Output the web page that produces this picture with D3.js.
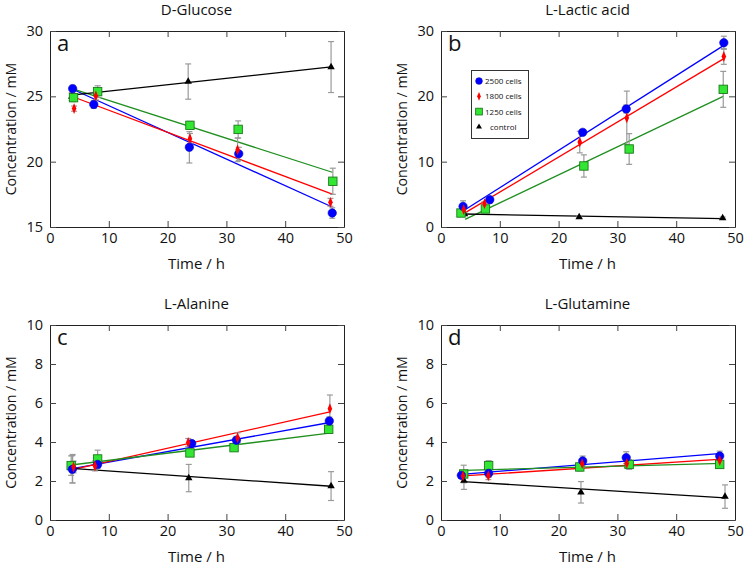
<!DOCTYPE html>
<html>
<head>
<meta charset="utf-8">
<script src="https://cdn.jsdelivr.net/npm/d3@7"></script>
<style>
  html, body { margin: 0; padding: 0; background: #fff; }
  svg { display: block; font-family: "Open Sans", "Noto Sans", sans-serif; }
</style>
</head>
<body>
<svg id="chart" width="745" height="566"></svg>
<script>
// ---------- data ----------
const seriesNames = ["2500 cells", "1800 cells", "1250 cells", "control"];
const panelTitles = ["D-Glucose", "L-Lactic acid", "L-Alanine", "L-Glutamine"];
const panelLetters = ["a", "b", "c", "d"];
const xTickValues = [0, 10, 20, 30, 40, 50];
const yDomains = [[15, 30], [0, 30], [0, 10], [0, 10]];
const yTickValues = [[15, 20, 25, 30], [0, 10, 20, 30], [0, 2, 4, 6, 8, 10], [0, 2, 4, 6, 8, 10]];

// D-Glucose (series order: 2500, 1800, 1250, control)
const glucoseTimes = [
  [3.85, 7.45, 23.7, 32.1, 48.0],
  [4.1, 7.8, 23.8, 31.9, 47.7],
  [4.0, 8.1, 23.8, 32.0, 48.1],
  [3.7, 23.5, 47.8]
];
const glucoseValues = [
  [25.59, 24.38, 21.1, 20.6, 16.07],
  [24.06, 25.03, 21.76, 20.9, 16.89],
  [24.9, 25.36, 22.78, 22.47, 18.5],
  [24.98, 26.13, 27.24]
];
const glucoseErrors = [
  [0.25, 0.3, 1.2, 0.5, 0.4],
  [0.2, 0.3, 0.4, 0.9, 0.3],
  [0.3, 0.45, 0.3, 0.65, 1.0],
  [0.3, 1.35, 1.95]
];
const glucoseFits = [[3.85, 25.54, 48.0, 16.53], [4.0, 24.95, 48.0, 17.51], [4.0, 25.55, 48.0, 19.19], [3.7, 25.1, 47.8, 27.25]];

// L-Lactic acid
const lactateTimes = [
  [3.75, 8.3, 24.1, 31.5, 48.1],
  [3.86, 7.4, 23.6, 31.6, 48.1],
  [3.4, 7.55, 24.3, 32.0, 48.0],
  [4.0, 23.5, 47.9]
];
const lactateValues = [
  [3.16, 4.18, 14.49, 18.06, 28.2],
  [2.65, 3.57, 13.0, 16.7, 26.1],
  [2.14, 2.76, 9.34, 11.94, 21.07],
  [1.99, 1.53, 1.38]
];
const lactateErrors = [
  [0.85, 0.5, 0.3, 0.6, 1.0],
  [0.4, 0.3, 1.65, 4.1, 1.2],
  [0.5, 0.5, 1.7, 2.35, 2.75],
  [0.2, 0.15, 0.15]
];
const lactateFits = [[3.75, 2.45, 48.1, 27.8], [3.86, 2.04, 48.1, 25.78], [4.1, 1.17, 48.0, 20.0], [4.0, 1.99, 47.9, 1.28]];

// L-Alanine
const alanineTimes = [
  [3.8, 8.1, 24.1, 31.7, 47.5],
  [4.0, 7.65, 23.5, 31.9, 47.6],
  [3.6, 8.1, 23.8, 31.3, 47.4],
  [3.85, 23.6, 47.8]
];
const alanineValues = [
  [2.6, 2.85, 3.92, 4.09, 5.08],
  [2.72, 2.77, 3.98, 4.22, 5.71],
  [2.79, 3.13, 3.44, 3.71, 4.65],
  [2.63, 2.15, 1.74]
];
const alanineErrors = [
  [0.7, 0.2, 0.15, 0.2, 0.2],
  [0.3, 0.25, 0.2, 0.25, 0.7],
  [0.5, 0.45, 0.15, 0.15, 0.2],
  [0.73, 0.7, 0.74]
];
const alanineFits = [[3.8, 2.63, 47.6, 5.0], [3.8, 2.58, 47.6, 5.55], [3.6, 2.82, 47.5, 4.45], [3.6, 2.65, 47.8, 1.73]];

// L-Glutamine
const glutamineTimes = [
  [3.46, 8.1, 24.1, 31.5, 47.4],
  [3.75, 8.05, 24.0, 31.6, 47.4],
  [3.86, 8.1, 23.6, 32.0, 47.4],
  [3.9, 23.8, 48.3]
];
const glutamineValues = [
  [2.29, 2.39, 3.03, 3.2, 3.28],
  [2.26, 2.27, 2.89, 2.9, 3.05],
  [2.36, 2.79, 2.72, 2.85, 2.85],
  [2.02, 1.42, 1.2]
];
const glutamineErrors = [
  [0.15, 0.2, 0.25, 0.3, 0.25],
  [0.15, 0.2, 0.2, 0.2, 0.2],
  [0.45, 0.25, 0.2, 0.25, 0.2],
  [0.45, 0.55, 0.6]
];
const glutamineFits = [[3.5, 2.34, 47.8, 3.42], [3.75, 2.26, 47.8, 3.12], [3.86, 2.55, 47.8, 2.9], [3.75, 1.97, 48.3, 1.13]];

// ---------- styling / layout ----------
const lineColors = ["#0000ff", "#ff0000", "#1f8f1f", "#000000"];
const markerFill = ["#0000ff", "#ff0000", "#33e633", "#000000"];
const markerStroke = ["#0000cc", "#dd0000", "#1a7a1a", "#000000"];
const panelRects = [
  { l: 50, r: 344, t: 31, b: 227 },
  { l: 441, r: 735, t: 31, b: 227 },
  { l: 50, r: 344, t: 325, b: 520 },
  { l: 441, r: 735, t: 325, b: 520 }
];
const panelTimes = [glucoseTimes, lactateTimes, alanineTimes, glutamineTimes];
const panelValues = [glucoseValues, lactateValues, alanineValues, glutamineValues];
const panelErrors = [glucoseErrors, lactateErrors, alanineErrors, glutamineErrors];
const panelFits = [glucoseFits, lactateFits, alanineFits, glutamineFits];

const svg = d3.select("#chart");
svg.append("rect").attr("width", 745).attr("height", 566).attr("fill", "#fff");

function drawMarker(g, s, cx, cy, scale) {
  const k = scale || 1;
  if (s === 0) {
    g.append("circle").attr("cx", cx).attr("cy", cy).attr("r", 4.2 * k)
      .attr("fill", markerFill[0]).attr("stroke", markerStroke[0]).attr("stroke-width", 0.6);
  } else if (s === 1) {
    g.append("path").attr("d", d3.symbol(d3.symbolDiamond, 28 * k * k)())
      .attr("transform", `translate(${cx},${cy}) scale(0.8,1.1)`)
      .attr("fill", markerFill[1]);
  } else if (s === 2) {
    const h = 4.2 * k;
    g.append("rect").attr("x", cx - h).attr("y", cy - h).attr("width", 2 * h).attr("height", 2 * h)
      .attr("fill", markerFill[2]).attr("stroke", markerStroke[2]).attr("stroke-width", 0.9);
  } else {
    g.append("path").attr("d", d3.symbol(d3.symbolTriangle, 24 * k * k)())
      .attr("transform", `translate(${cx},${cy})`)
      .attr("fill", markerFill[3]);
  }
}

panelRects.forEach((p, i) => {
  const x = d3.scaleLinear().domain([0, 50]).range([p.l, p.r]);
  const y = d3.scaleLinear().domain(yDomains[i]).range([p.b, p.t]);
  const g = svg.append("g");

  // axes (inward ticks on all four sides)
  const tickLen = 6;
  const styleAxis = a => {
    a.select(".domain").attr("stroke", "#222").attr("stroke-width", 1);
    a.selectAll(".tick line").attr("stroke", "#444").attr("stroke-width", 1);
    a.selectAll("text").attr("font-size", 14.5).attr("fill", "#111")
      .attr("font-family", "'Open Sans', 'Noto Sans', sans-serif");
  };
  g.append("g").attr("transform", `translate(0,${p.b})`)
    .call(d3.axisBottom(x).tickValues(xTickValues).tickSizeInner(-tickLen).tickSizeOuter(0).tickPadding(6))
    .call(styleAxis);
  g.append("g").attr("transform", `translate(0,${p.t})`)
    .call(d3.axisTop(x).tickValues(xTickValues).tickSizeInner(-tickLen).tickSizeOuter(0).tickFormat(""))
    .call(styleAxis);
  g.append("g").attr("transform", `translate(${p.l},0)`)
    .call(d3.axisLeft(y).tickValues(yTickValues[i]).tickSizeInner(-tickLen).tickSizeOuter(0).tickPadding(7))
    .call(styleAxis);
  g.append("g").attr("transform", `translate(${p.r},0)`)
    .call(d3.axisRight(y).tickValues(yTickValues[i]).tickSizeInner(-tickLen).tickSizeOuter(0).tickFormat(""))
    .call(styleAxis);

  // titles
  const cx = (p.l + p.r) / 2 - 0.5;
  svg.append("text").attr("x", cx).attr("y", p.t - 16).attr("text-anchor", "middle")
    .attr("font-size", 15).attr("fill", "#111").text(panelTitles[i]);
  svg.append("text").attr("x", cx).attr("y", p.b + 42).attr("text-anchor", "middle")
    .attr("font-size", 15).attr("fill", "#111").text("Time / h");
  const ly = (p.t + p.b) / 2;
  const lx = p.l - 34.5;
  svg.append("text").attr("transform", `translate(${lx},${ly}) rotate(-90)`)
    .attr("text-anchor", "middle").attr("font-size", 14.2).attr("fill", "#111")
    .text("Concentration / mM");
  svg.append("text").attr("x", p.l + 7).attr("y", p.t + 20).attr("font-size", 22)
    .attr("fill", "#111").text(panelLetters[i]);

  const clip = "clip" + i;
  svg.append("clipPath").attr("id", clip).append("rect")
    .attr("x", p.l).attr("y", p.t).attr("width", p.r - p.l).attr("height", p.b - p.t);
  const plot = svg.append("g").attr("clip-path", `url(#${clip})`);

  // fit lines
  panelFits[i].forEach((f, s) => {
    plot.append("line")
      .attr("x1", x(f[0])).attr("y1", y(f[1])).attr("x2", x(f[2])).attr("y2", y(f[3]))
      .attr("stroke", lineColors[s]).attr("stroke-width", 1.3);
  });

  // error bars
  const eg = plot.append("g").attr("stroke", "#9a9a9a").attr("stroke-width", 1.2).attr("fill", "none");
  panelTimes[i].forEach((ts, s) => {
    ts.forEach((t, j) => {
      const v = panelValues[i][s][j], e = panelErrors[i][s][j];
      const px = x(t), y0 = y(v - e), y1 = y(v + e);
      eg.append("line").attr("x1", px).attr("x2", px).attr("y1", y0).attr("y2", y1);
      eg.append("line").attr("x1", px - 3).attr("x2", px + 3).attr("y1", y0).attr("y2", y0);
      eg.append("line").attr("x1", px - 3).attr("x2", px + 3).attr("y1", y1).attr("y2", y1);
    });
  });

  // markers
  const mg = plot.append("g");
  [3, 2, 0, 1].forEach(s => {
    panelTimes[i][s].forEach((t, j) => {
      drawMarker(mg, s, x(t), y(panelValues[i][s][j]), 1);
    });
  });
});

// legend in panel b
const leg = svg.append("g");
leg.append("rect").attr("x", 471.5).attr("y", 70.5).attr("width", 57).attr("height", 68)
  .attr("fill", "#fff").attr("stroke", "#333").attr("stroke-width", 1);
seriesNames.forEach((name, s) => {
  const yy = 81 + s * 15.3;
  drawMarker(leg, s, 479, yy, 0.8);
  leg.append("text").attr("x", s === 3 ? 490 : 485).attr("y", yy + 3)
    .attr("font-size", 8).attr("fill", "#111").text(name);
});
</script>
</body>
</html>
